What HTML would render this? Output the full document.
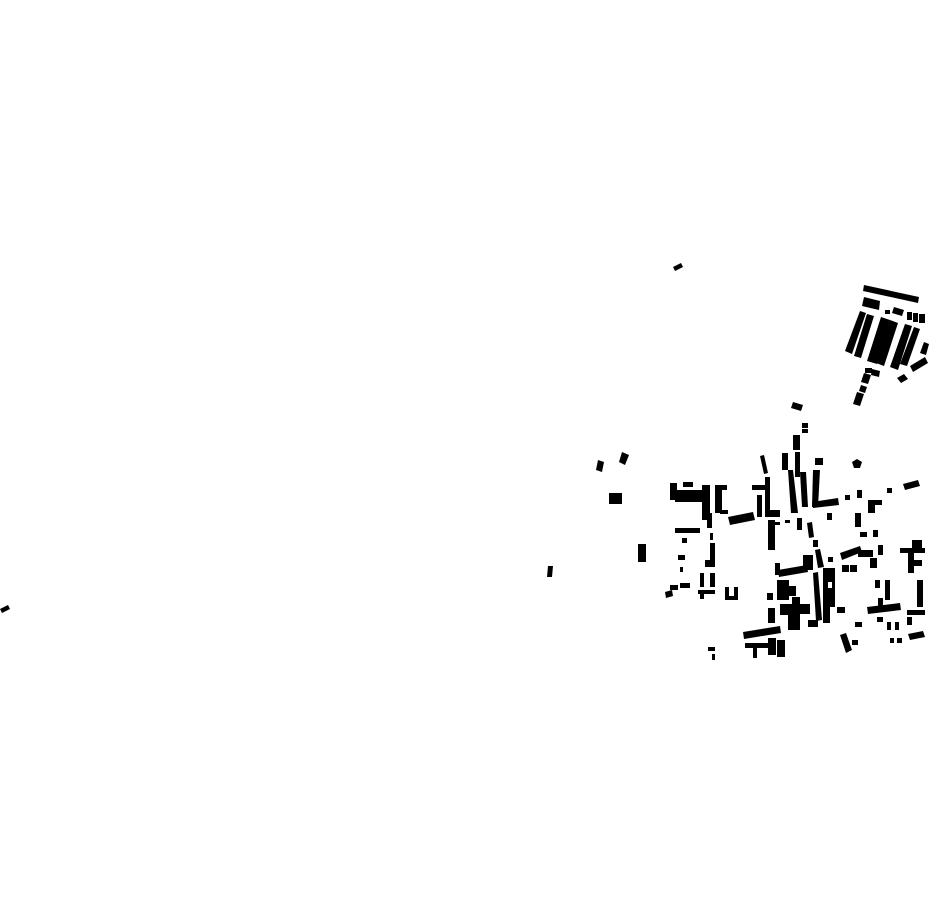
<!DOCTYPE html>
<html><head><meta charset="utf-8"><style>html,body{margin:0;padding:0;background:#fff}svg{display:block}</style></head>
<body>
<svg width="930" height="924" viewBox="0 0 930 924" xmlns="http://www.w3.org/2000/svg">
<g fill="#000">
<!-- isolated -->
<polygon points="673,267 681,263 683,267 675,271"/>
<polygon points="0,609 8,605 10,609 2,613"/>
<polygon points="598,460 604,462 602,472 596,470"/>
<polygon points="622,452 629,455 625,465 619,462"/>
<rect x="609" y="493" width="13" height="11"/>
<rect x="638" y="544" width="8" height="18"/>
<polygon points="548,566 553,566 552,577 547,577"/>
<!-- top right cluster -->
<polygon points="864,285 919,297 918,303 863,291"/>
<polygon points="864,297 880,301 879,310 862,306"/>
<rect x="885" y="310" width="5" height="4"/>
<polygon points="894,307 904,310 902,316 892,313"/>
<rect x="907" y="312" width="5" height="8"/>
<rect x="913" y="313" width="5" height="9"/>
<rect x="919" y="314" width="6" height="9"/>
<polygon points="860,311 866,313 852,354 845,351"/>
<polygon points="867,314 874,316 861,358 854,356"/>
<polygon points="881,317 890,320 877,364 867,361"/>
<polygon points="890,320 898,323 884,366 876,363"/>
<polygon points="905,324 912,326 898,370 890,367"/>
<polygon points="914,327 920,329 907,366 900,364"/>
<polygon points="924,342 929,344 926,355 920,353"/>
<polygon points="910,366 925,357 928,363 913,372"/>
<polygon points="897,378 904,374 908,379 901,383"/>
<rect x="865" y="368" width="7" height="5"/>
<polygon points="872,369 880,371 879,377 871,375"/>
<polygon points="864,373 871,375 868,384 861,382"/>
<polygon points="861,385 867,387 865,393 859,391"/>
<polygon points="857,392 864,394 860,406 853,404"/>
<polygon points="793,402 803,405 801,411 791,408"/>
<rect x="802" y="423" width="6" height="5"/>
<rect x="802" y="429" width="6" height="4"/>
<rect x="793" y="435" width="7" height="15"/>
<!-- main cluster -->
<rect x="782" y="453" width="6" height="17"/>
<rect x="795" y="452" width="5" height="25"/>
<polygon points="760,456 764,455 768,473 764,474"/>
<rect x="815" y="458" width="8" height="7"/>
<polygon points="857,459 862,462 860,468 854,468 852,462"/>
<rect x="670" y="483" width="7" height="17"/>
<rect x="675" y="490" width="27" height="12"/>
<rect x="683" y="482" width="10" height="5"/>
<rect x="702" y="485" width="8" height="35"/>
<rect x="715" y="485" width="12" height="5"/>
<rect x="715" y="490" width="7" height="23"/>
<rect x="720" y="510" width="8" height="4"/>
<rect x="707" y="513" width="5" height="15"/>
<polygon points="728,517 753,512 755,520 730,525"/>
<rect x="675" y="528" width="25" height="5"/>
<rect x="710" y="533" width="3" height="7"/>
<rect x="710" y="543" width="5" height="24"/>
<rect x="682" y="538" width="5" height="5"/>
<rect x="678" y="555" width="7" height="5"/>
<rect x="680" y="567" width="3" height="5"/>
<rect x="705" y="560" width="10" height="7"/>
<rect x="700" y="573" width="4" height="14"/>
<rect x="710" y="573" width="5" height="14"/>
<polygon points="665,592 672,590 673,596 666,598"/>
<rect x="670" y="585" width="8" height="5"/>
<rect x="680" y="583" width="10" height="5"/>
<rect x="698" y="590" width="17" height="4"/>
<rect x="700" y="594" width="4" height="5"/>
<path d="M725 587h4v9h5v-9h4v13h-13z"/>
<rect x="752" y="485" width="18" height="5"/>
<rect x="757" y="495" width="5" height="22"/>
<rect x="765" y="477" width="5" height="40"/>
<rect x="770" y="510" width="10" height="7"/>
<rect x="768" y="520" width="7" height="30"/>
<rect x="773" y="522" width="7" height="3"/>
<rect x="785" y="520" width="5" height="3"/>
<rect x="797" y="518" width="5" height="12"/>
<polygon points="788,470 793,470 798,513 791,513"/>
<polygon points="800,472 806,472 808,507 802,507"/>
<polygon points="813,470 820,470 818,507 812,507"/>
<polygon points="812,502 838,498 839,505 813,508"/>
<rect x="827" y="513" width="5" height="7"/>
<rect x="845" y="495" width="5" height="5"/>
<rect x="857" y="490" width="5" height="8"/>
<path d="M868 500h14v5h-7v8h-7z"/>
<rect x="887" y="488" width="5" height="5"/>
<polygon points="903,484 918,480 920,486 905,490"/>
<polygon points="807,523 812,522 814,537 809,538"/>
<rect x="813" y="540" width="5" height="7"/>
<polygon points="815,550 820,549 824,567 818,568"/>
<rect x="828" y="557" width="5" height="5"/>
<polygon points="840,553 860,546 862,552 842,560"/>
<rect x="858" y="550" width="15" height="7"/>
<rect x="855" y="513" width="6" height="14"/>
<rect x="860" y="532" width="7" height="5"/>
<rect x="873" y="530" width="5" height="7"/>
<rect x="878" y="545" width="5" height="10"/>
<rect x="870" y="558" width="7" height="10"/>
<path d="M912 540h10v8h3v5h-25v-5h12z"/>
<rect x="908" y="553" width="6" height="20"/>
<rect x="914" y="560" width="8" height="6"/>
<rect x="842" y="565" width="7" height="7"/>
<rect x="850" y="565" width="7" height="7"/>
<rect x="775" y="563" width="5" height="12"/>
<polygon points="778,570 807,565 808,572 779,577"/>
<rect x="803" y="555" width="10" height="15"/>
<polygon points="813,573 818,572 822,620 816,621"/>
<path d="M823 568h12v39h-12zM828 582v6h4v-6z" fill-rule="evenodd"/>
<rect x="777" y="580" width="12" height="20"/>
<rect x="788" y="586" width="8" height="10"/>
<path d="M792 597h8v7h10v10h-10v16h-12v-16h-8v-10h12z"/>
<rect x="767" y="593" width="6" height="7"/>
<rect x="768" y="608" width="7" height="15"/>
<rect x="780" y="607" width="13" height="8"/>
<rect x="837" y="607" width="8" height="6"/>
<rect x="808" y="620" width="10" height="7"/>
<rect x="823" y="603" width="7" height="20"/>
<rect x="855" y="622" width="7" height="5"/>
<rect x="875" y="580" width="5" height="8"/>
<rect x="885" y="580" width="5" height="20"/>
<polygon points="867,607 900,603 901,610 868,614"/>
<rect x="878" y="598" width="5" height="9"/>
<rect x="917" y="580" width="6" height="27"/>
<rect x="907" y="610" width="18" height="5"/>
<rect x="877" y="617" width="6" height="5"/>
<rect x="887" y="622" width="4" height="8"/>
<rect x="895" y="622" width="4" height="8"/>
<rect x="907" y="617" width="5" height="8"/>
<rect x="890" y="638" width="4" height="5"/>
<rect x="897" y="638" width="5" height="5"/>
<polygon points="908,634 923,631 925,637 910,640"/>
<polygon points="840,635 846,633 852,650 846,653"/>
<rect x="852" y="640" width="6" height="5"/>
<polygon points="743,632 780,626 781,633 744,639"/>
<rect x="745" y="643" width="25" height="5"/>
<rect x="753" y="645" width="4" height="13"/>
<rect x="768" y="638" width="8" height="17"/>
<rect x="777" y="640" width="8" height="17"/>
<rect x="708" y="647" width="7" height="4"/>
<rect x="712" y="654" width="3" height="6"/>
</g>
</svg>
</body></html>
